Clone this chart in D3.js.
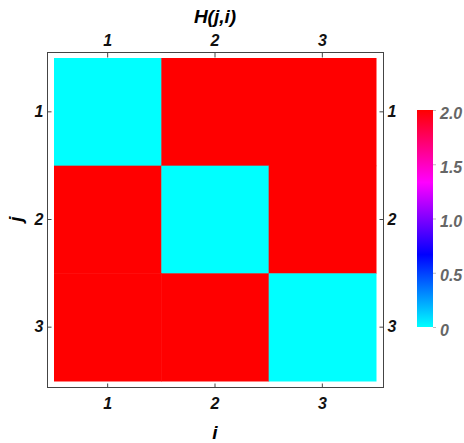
<!DOCTYPE html>
<html>
<head>
<meta charset="utf-8">
<script src="https://cdn.jsdelivr.net/npm/d3@7"></script>
<style>
  body { margin: 0; background: #fff; }
  text { font-family: "Liberation Sans", Arial, sans-serif; font-weight: bold; font-style: italic; }
</style>
</head>
<body>
<div id="chart"></div>
<script>
// matrix H(j,i): rows j, columns i
const rowLabels = [1, 2, 3];
const colLabels = [1, 2, 3];
const hValues = [
  [0, 2, 2],
  [2, 0, 2],
  [2, 2, 0]
];
const legendTicks = [0, 0.5, 1, 1.5, 2];
const legendStops = [0, 2 / 3, 4 / 3, 2];
const legendColors = ["#00ffff", "#0000ff", "#ff00ff", "#ff0000"];

const W = 464, H = 443;
const frame = {left: 47.5, right: 383.5, top: 52.5, bottom: 387.5};

const svg = d3.select("#chart")
  .append("svg")
  .attr("width", W)
  .attr("height", H);

const x = d3.scaleBand().domain(colLabels).range([54, 376]);
const y = d3.scaleBand().domain(rowLabels).range([58, 381]);

const color = d3.scaleLinear()
  .domain(legendStops)
  .range(legendColors);

// flatten to cells
const cells = [];
hValues.forEach((row, r) => row.forEach((v, c) => {
  cells.push({j: rowLabels[r], i: colLabels[c], value: v});
}));

svg.append("g")
  .selectAll("rect")
  .data(cells)
  .join("rect")
  .attr("x", d => x(d.i))
  .attr("y", d => y(d.j))
  .attr("width", x.bandwidth() + 0.5)
  .attr("height", y.bandwidth() + 0.5)
  .style("fill", d => color(d.value));

// frame
svg.append("rect")
  .attr("x", frame.left)
  .attr("y", frame.top)
  .attr("width", frame.right - frame.left)
  .attr("height", frame.bottom - frame.top)
  .style("fill", "none")
  .style("stroke", "#444")
  .style("stroke-width", 1);

function styleAxis(g) {
  g.select(".domain").remove();
  g.selectAll(".tick line").style("stroke", "#444");
  g.selectAll("text").style("font-size", "16px").style("fill", "#111");
}

svg.append("g")
  .attr("transform", `translate(0, ${frame.top})`)
  .call(d3.axisTop(x).tickSize(-5).tickPadding(7))
  .call(styleAxis);

svg.append("g")
  .attr("transform", `translate(0, ${frame.bottom})`)
  .call(d3.axisBottom(x).tickSize(-4).tickPadding(10))
  .call(styleAxis);

svg.append("g")
  .attr("transform", `translate(${frame.left}, 0)`)
  .call(d3.axisLeft(y).tickSize(-4).tickPadding(4))
  .call(styleAxis);

svg.append("g")
  .attr("transform", `translate(${frame.right}, 0)`)
  .call(d3.axisRight(y).tickSize(-4).tickPadding(4))
  .call(styleAxis);

// titles
svg.append("text")
  .attr("x", 215)
  .attr("y", 23)
  .attr("text-anchor", "middle")
  .style("font-size", "19px")
  .text("H(j,i)");

svg.append("text")
  .attr("x", 215)
  .attr("y", 439)
  .attr("text-anchor", "middle")
  .style("font-size", "19px")
  .text("i");

svg.append("text")
  .attr("transform", "translate(22, 219) rotate(-90)")
  .attr("text-anchor", "middle")
  .style("font-size", "19px")
  .text("j");

// color bar legend
const lg = {x: 417, w: 16, top: 110, bottom: 327};
const ly = d3.scaleLinear().domain([0, 2]).range([lg.bottom, lg.top]);

const defs = svg.append("defs");
const grad = defs.append("linearGradient")
  .attr("id", "cbar")
  .attr("x1", 0).attr("y1", 1)
  .attr("x2", 0).attr("y2", 0);
grad.selectAll("stop")
  .data(legendStops)
  .join("stop")
  .attr("offset", d => d / 2)
  .attr("stop-color", d => color(d));

svg.append("rect")
  .attr("x", lg.x)
  .attr("y", lg.top)
  .attr("width", lg.w)
  .attr("height", lg.bottom - lg.top)
  .style("fill", "url(#cbar)");

svg.append("g")
  .attr("transform", `translate(${lg.x + lg.w}, 0)`)
  .call(d3.axisRight(ly)
    .tickValues(legendTicks)
    .tickFormat(d => d === 0 ? "0" : d3.format(".1f")(d))
    .tickSize(3)
    .tickPadding(4))
  .call(g => g.select(".domain").remove())
  .call(g => g.selectAll(".tick line").style("stroke", "#bbb"))
  .call(g => g.selectAll("text")
    .attr("dy", "0.5em")
    .style("font-size", "16px")
    .style("fill", "#666"));
</script>
</body>
</html>
